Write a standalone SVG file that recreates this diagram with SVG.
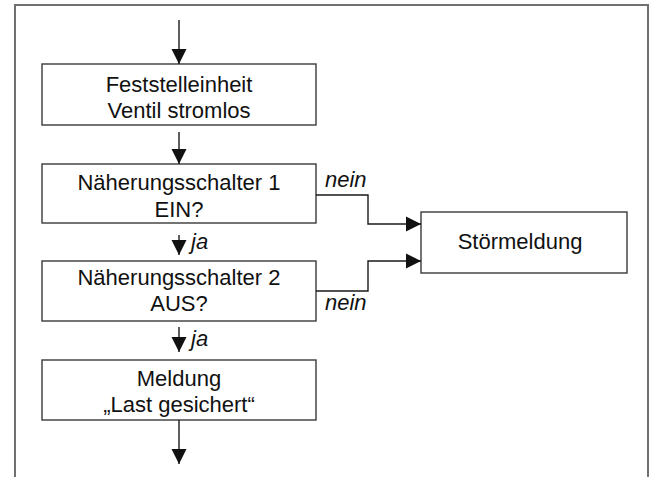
<svg xmlns="http://www.w3.org/2000/svg" width="653" height="477" viewBox="0 0 653 477">
<style>
.box{fill:#fff;stroke:#3a3a3a;stroke-width:1.4}
.t{font-family:"Liberation Sans",Arial,sans-serif;font-size:22px;fill:#111;text-anchor:middle}
.lbl{font-family:"Liberation Sans",Arial,sans-serif;font-size:22px;font-style:italic;fill:#111}
.c{fill:none;stroke:#1a1a1a;stroke-width:1.4}
</style>
<defs>
<marker id="ah" markerUnits="userSpaceOnUse" markerWidth="16" markerHeight="16" viewBox="0 0 16 16" refX="15" refY="8" orient="auto">
<path d="M0,0.5 L15,8 L0,15.5 Z" fill="#111"/>
</marker>
</defs>
<rect x="15" y="5" width="633" height="490" fill="#fff" stroke="#707070" stroke-width="2"/>
<g id="n1">
<rect class="box" x="42" y="64" width="274" height="61"/>
<text class="t" x="179" y="91.5">Feststelleinheit</text>
<text class="t" x="179" y="118">Ventil stromlos</text>
</g>
<g id="n2">
<rect class="box" x="42" y="164" width="274" height="59"/>
<text class="t" x="179" y="189.5">Näherungsschalter 1</text>
<text class="t" x="179" y="216.5">EIN?</text>
</g>
<g id="n3">
<rect class="box" x="42" y="261" width="274" height="60"/>
<text class="t" x="179" y="285">Näherungsschalter 2</text>
<text class="t" x="179" y="311">AUS?</text>
</g>
<g id="n4">
<rect class="box" x="42" y="360" width="274" height="60"/>
<text class="t" x="179" y="385.5">Meldung</text>
<text class="t" x="179" y="411.5">„Last gesichert“</text>
</g>
<g id="n5">
<rect class="box" x="421" y="212" width="206" height="61"/>
<text class="t" x="520" y="249">Störmeldung</text>
</g>
<g id="connectors">
<line class="c" x1="179" y1="20" x2="179" y2="64" marker-end="url(#ah)"/>
<line class="c" x1="179" y1="132" x2="179" y2="164" marker-end="url(#ah)"/>
<line class="c" x1="179" y1="235" x2="179" y2="255" marker-end="url(#ah)"/>
<line class="c" x1="179" y1="327" x2="179" y2="352" marker-end="url(#ah)"/>
<line class="c" x1="179" y1="420" x2="179" y2="464" marker-end="url(#ah)"/>
<polyline class="c" points="316,195 368,195 368,224 421,224" marker-end="url(#ah)"/>
<polyline class="c" points="316,291 368,291 368,261 421,261" marker-end="url(#ah)"/>
<text class="lbl" x="191" y="249">ja</text>
<text class="lbl" x="191" y="346">ja</text>
<text class="lbl" x="325" y="187">nein</text>
<text class="lbl" x="325" y="310">nein</text>
</g>
</svg>
